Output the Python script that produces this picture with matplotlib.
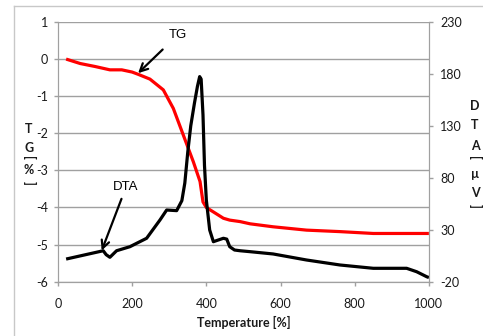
import matplotlib
matplotlib.use('Agg')
import matplotlib.pyplot as plt
from matplotlib.lines import Line2D

plt.rcParams['axes.unicode_minus'] = False

# TG curve [%] vs temperature
tg_temp = [22, 60, 100, 140, 172, 200, 216, 248, 284, 311, 338, 365, 383, 391, 400,
           446, 463, 491, 518, 580, 670, 760, 850, 1000]
tg_val = [0.0, -0.12, -0.2, -0.29, -0.29, -0.35, -0.41, -0.54, -0.83, -1.33, -2.05, -2.77,
          -3.3, -3.85, -4.0, -4.29, -4.34, -4.38, -4.44, -4.52, -4.61, -4.65, -4.7, -4.7]

# DTA curve [uV] vs temperature
dta_temp = [22, 122, 130, 140, 158, 194, 239, 275, 293, 320, 334, 342, 350, 358, 368,
            376, 382, 386, 391, 395, 400, 409, 419, 427, 446, 455, 463, 476, 491, 518,
            580, 670, 760, 850, 940, 967, 994, 1000]
dta_val = [1.8, 9.8, 6.0, 3.5, 9.8, 13.7, 21.8, 39.4, 49.0, 48.4, 58.0, 75.0, 105.0,
           130.0, 152.0, 168.0, 177.4, 175.0, 140.5, 92.0, 58.6, 29.8, 18.5, 19.5, 21.8,
           21.0, 13.7, 10.5, 9.8, 8.9, 6.7, 0.9, -3.9, -7.1, -7.1, -10.4, -15.2, -16.0]

x_ticks = [0, 200, 400, 600, 800, 1000]
tg_ticks = [1, 0, -1, -2, -3, -4, -5, -6]
dta_ticks = [-20, 30, 80, 130, 180, 230]

tick_font = 'Lato'
grid_c = '#a0a0a0'
text_c = '#1a1a1a'

fig = plt.figure(figsize=(4.83, 3.36), dpi=100)
ax = fig.add_axes([0.120, 0.1616, 0.768, 0.773])
ax2 = ax.twinx()

ax.plot(tg_temp, tg_val, color='#ff0000', lw=2.3, solid_capstyle='butt')
ax2.plot(dta_temp, dta_val, color='black', lw=2.3, solid_capstyle='butt')

ax.set_xlim(0, 1000)
ax.set_ylim(-6, 1)
ax2.set_ylim(-20, 230)
ax.set_xticks(x_ticks)
ax.set_yticks(tg_ticks)
ax2.set_yticks(dta_ticks)
ax.yaxis.grid(True, color=grid_c, lw=1)
ax.set_axisbelow(True)

for a in (ax, ax2):
    for s in a.spines.values():
        s.set_color(grid_c)
    a.spines['top'].set_visible(False)
    a.tick_params(colors=grid_c, labelcolor=text_c, labelsize=9, length=3, width=1)
    for lab in a.get_xticklabels() + a.get_yticklabels():
        lab.set_fontfamily(tick_font)
ax.tick_params(axis='x', pad=9)
ax.tick_params(axis='y', pad=4)
ax2.tick_params(axis='y', pad=5)

ax.set_xlabel('Temperature [%]', fontfamily=tick_font, fontweight='bold', fontsize=9,
              labelpad=4, color=text_c)

# stacked axis titles
def stacked(chars, x, ys):
    for ch, y in zip(chars, ys):
        rot = -90 if ch in '[]' else 0
        fig.text(x / 483, 1 - y / 336, ch, ha='center', va='center', rotation=rot,
                 fontfamily=tick_font, fontweight='bold', fontsize=9, color=text_c)

stacked(['T', 'G', '[', '%', ']'], 29, [129, 148, 158, 170, 183])
stacked(['D', 'T', 'A', '[', 'µ', 'V', ']'], 475, [106, 125, 146, 158, 174, 193, 206])

# annotations
ax.annotate('TG', xy=(216, -0.38), xytext=(323, 0.65), ha='center', va='center',
            fontfamily='Liberation Sans', fontsize=9.5,
            arrowprops=dict(arrowstyle='->', color='black', lw=1.6,
                            shrinkA=6, shrinkB=0, mutation_scale=14))
ax.annotate('DTA', xy=(118, -5.16), xytext=(183, -3.46), ha='center', va='center',
            fontfamily='Liberation Sans', fontsize=9.5,
            arrowprops=dict(arrowstyle='->', color='black', lw=1.6,
                            shrinkA=2, shrinkB=0, mutation_scale=14))

# outer chart border (top and left)
fig.add_artist(Line2D([14 / 483, 1.0], [1 - 5.5 / 336, 1 - 5.5 / 336],
                      transform=fig.transFigure, color='#c8c8c8', lw=1))
fig.add_artist(Line2D([14 / 483, 14 / 483], [0.0, 1 - 5.5 / 336],
                      transform=fig.transFigure, color='#c8c8c8', lw=1))

fig.savefig('out.png', dpi=100)
